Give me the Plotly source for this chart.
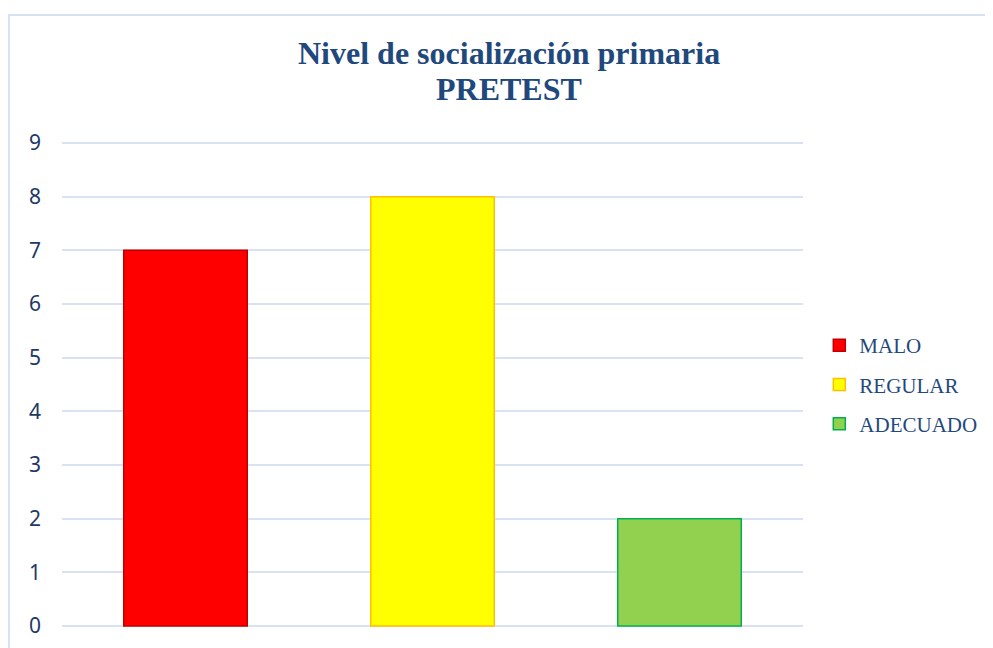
import plotly.graph_objects as go

categories = ["MALO", "REGULAR", "ADECUADO"]
values = [7, 8, 2]
fill_colors = ["#FF0000", "#FFFF00", "#92D050"]
line_colors = ["#C00000", "#FFC000", "#00B050"]
y_ticks = list(range(0, 10))

title_font = dict(family="Liberation Serif, Times New Roman, serif", size=32, color="#1F497D")

fig = go.Figure()
for cat, val, fc, lc in zip(categories, values, fill_colors, line_colors):
    fig.add_trace(go.Bar(
        x=[cat], y=[val], name=cat, width=0.5,
        marker=dict(color=fc, line=dict(color=lc, width=1.5)),
        legendgroup=cat,
    ))

# the page body adds an 8px margin, so the figure is offset accordingly
fig.update_layout(
    width=985, height=640,
    margin=dict(l=54, r=190, t=134, b=21, autoexpand=False),
    paper_bgcolor="white", plot_bgcolor="white",
    barmode="overlay",
    xaxis=dict(showticklabels=False, showgrid=False, zeroline=False, showline=False, ticks="",
               automargin=False),
    yaxis=dict(
        range=[-0.02, 9.02], tickvals=y_ticks, showgrid=True, gridcolor="#D9E2F3", gridwidth=1.5,
        zeroline=False, showline=False, ticks="", ticklabelstandoff=20, automargin=False,
        tickfont=dict(family="Noto Sans, Liberation Sans, sans-serif", size=21, color="#1F3864"),
    ),
    legend=dict(
        x=1.022, y=0.5, xanchor="left", yanchor="middle",
        font=dict(family="Liberation Serif, Times New Roman, serif", size=21, color="#1F497D"),
        tracegroupgap=9, itemwidth=30,
    ),
    showlegend=True,
)

# two-line title, placed as annotations to keep the tight line spacing
fig.add_annotation(text="<b>Nivel de socialización primaria</b>", xref="paper", yref="paper",
                   x=0.603, y=1.1835, xanchor="center", yanchor="middle",
                   showarrow=False, font=title_font)
fig.add_annotation(text="<b>PRETEST</b>", xref="paper", yref="paper",
                   x=0.603, y=1.109, xanchor="center", yanchor="middle",
                   showarrow=False, font=title_font)

fig.add_shape(
    type="rect", xref="paper", yref="paper",
    x0=-0.0715, x1=1.5, y0=-0.3, y1=1.262,
    line=dict(color="#D6E1F1", width=2), fillcolor="rgba(0,0,0,0)", layer="below",
)

fig.write_html("out.html")
